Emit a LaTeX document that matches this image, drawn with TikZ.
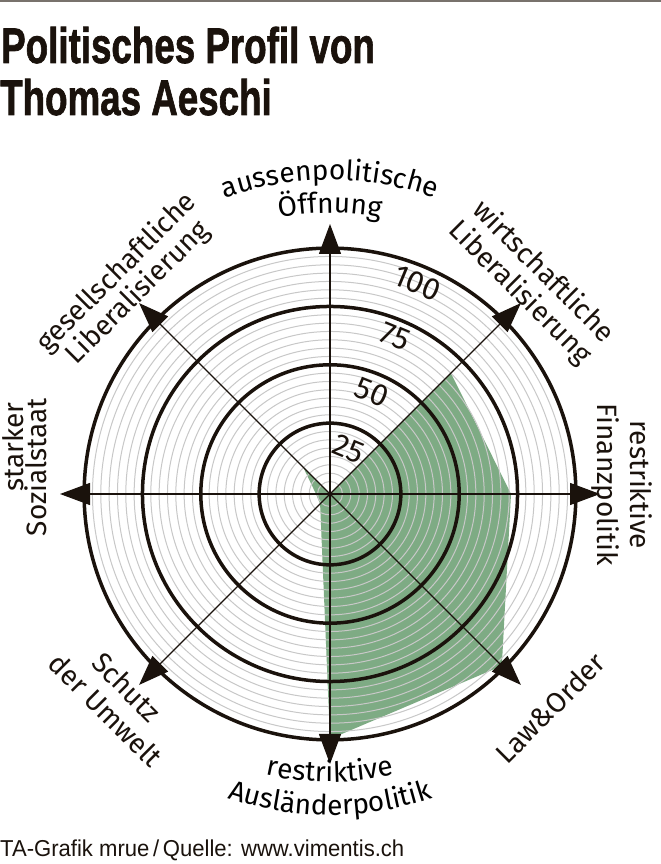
\documentclass[tikz,border=0pt]{standalone}
\usepackage{fontspec}
\setmainfont{Fira Sans}
\newfontfamily\titlefont{Liberation Sans}[BoldFeatures={FakeBold=1.6}]
\usetikzlibrary{arrows.meta,decorations.text}
\definecolor{ink}{RGB}{26,18,12}
\definecolor{profgreen}{RGB}{126,171,132}
\definecolor{ringgray}{RGB}{200,200,200}
\definecolor{rulegray}{RGB}{120,114,108}
\newcommand{\labfont}{\fontsize{28bp}{30bp}\selectfont}
\newcommand{\numfont}{\fontsize{31bp}{33bp}\selectfont}
\begin{document}
\begin{tikzpicture}[x=1bp,y=1bp,
  ring/.style={draw=ink, line width=3.5bp},
  thinring/.style={draw=ringgray, line width=1bp},
  axisline/.style={draw=ink, line width=1.3bp, -{Triangle[length=30bp,width=22bp]}},
  lab/.style={font=\labfont, text=ink, inner sep=0pt},
  num/.style={font=\numfont, text=ink, inner sep=0pt, rotate=-22.5},
  curvedlab/.style={ink, decorate, decoration={text along path, text align=center, text={#1}}}
]
\useasboundingbox (0,0) rectangle (661,864);
\fill[white] (0,0) rectangle (661,864);
\fill[rulegray] (0,862) rectangle (661,864);

% title
\node[anchor=base west, inner sep=0pt, text=ink] (t1) at (1,801)
  {\scalebox{0.735}[1]{\titlefont\bfseries\fontsize{50bp}{52bp}\selectfont Politisches Profil von}};
\node[anchor=base west, inner sep=0pt, text=ink] (t2) at (0,749)
  {\scalebox{0.735}[1]{\titlefont\bfseries\fontsize{50bp}{52bp}\selectfont Thomas Aeschi}};

\begin{scope}[shift={(330,370)}]
\coordinate (o) at (0,0);
% profile
\fill[profgreen] (o) -- (45:171) -- (0:181) -- (-45:243) -- (-90:245) -- (-135:14) -- (180:14) -- (135:38) -- cycle;
% thin rings
\foreach \k in {0,...,28} { \draw[thinring] (o) circle[radius=12.5+8.335*\k]; }
% bold rings
\foreach \k in {7,14,21,28} { \draw[ring] (o) circle[radius=12.5+8.335*\k]; }
% axes
\foreach \a/\n in {90/N,45/NE,0/E,-45/SE,-90/S,-135/SW,180/W,135/NW} {
  \coordinate (tip\n) at (\a:270);
  \draw[axisline] (o) -- (tip\n);
}
% scale numbers
\node[num] (n25) at (67.5:49) {25};
\node[num] (n50) at (67.5:110) {50};
\node[num] (n75) at (67.5:170) {75};
\node[num] (n100) at (67.5:228) {100};

% curved labels
\path[curvedlab={|\labfont|aussenpolitische}] (130:314) arc[start angle=130, end angle=50, radius=314];
\path[curvedlab={|\labfont|Öffnung}] (130:281) arc[start angle=130, end angle=50, radius=281];
\path[curvedlab={|\labfont|restriktive}] (230:288) arc[start angle=230, end angle=310, radius=288];
\path[curvedlab={|\labfont|Ausländerpolitik}] (230:321) arc[start angle=230, end angle=310, radius=321];

% straight labels
\node[lab, rotate=-45] (ne1) at (215,224) {wirtschaftliche};
\node[lab, rotate=-45] (ne2) at (190,201) {Liberalisierung};
\node[lab, rotate=45] (nw1) at (-213,221) {gesellschaftliche};
\node[lab, rotate=45] (nw2) at (-192,201) {Liberalisierung};
\node[lab, rotate=90] (w1) at (-317,47) {starker};
\node[lab, rotate=90] (w2) at (-294,27) {Sozialstaat};
\node[lab, rotate=-90] (e1) at (311,9) {restriktive};
\node[lab, rotate=-90] (e2) at (275,9) {Finanzpolitik};
\node[lab, rotate=45] (se1) at (220,-214) {Law\&Order};
\node[lab, rotate=-45] (sw1) at (-203,-193) {Schutz};
\node[lab, rotate=-45] (sw2) at (-224,-216) {der Umwelt};
\end{scope}

% footer
\node[anchor=base west, inner sep=0pt, text=ink] (foot) at (0,7)
  {\scalebox{0.96}[1]{\titlefont\fontsize{23bp}{25bp}\selectfont TA-Grafik mrue\,/\,Quelle: www.vimentis.ch}};
\end{tikzpicture}
\end{document}
